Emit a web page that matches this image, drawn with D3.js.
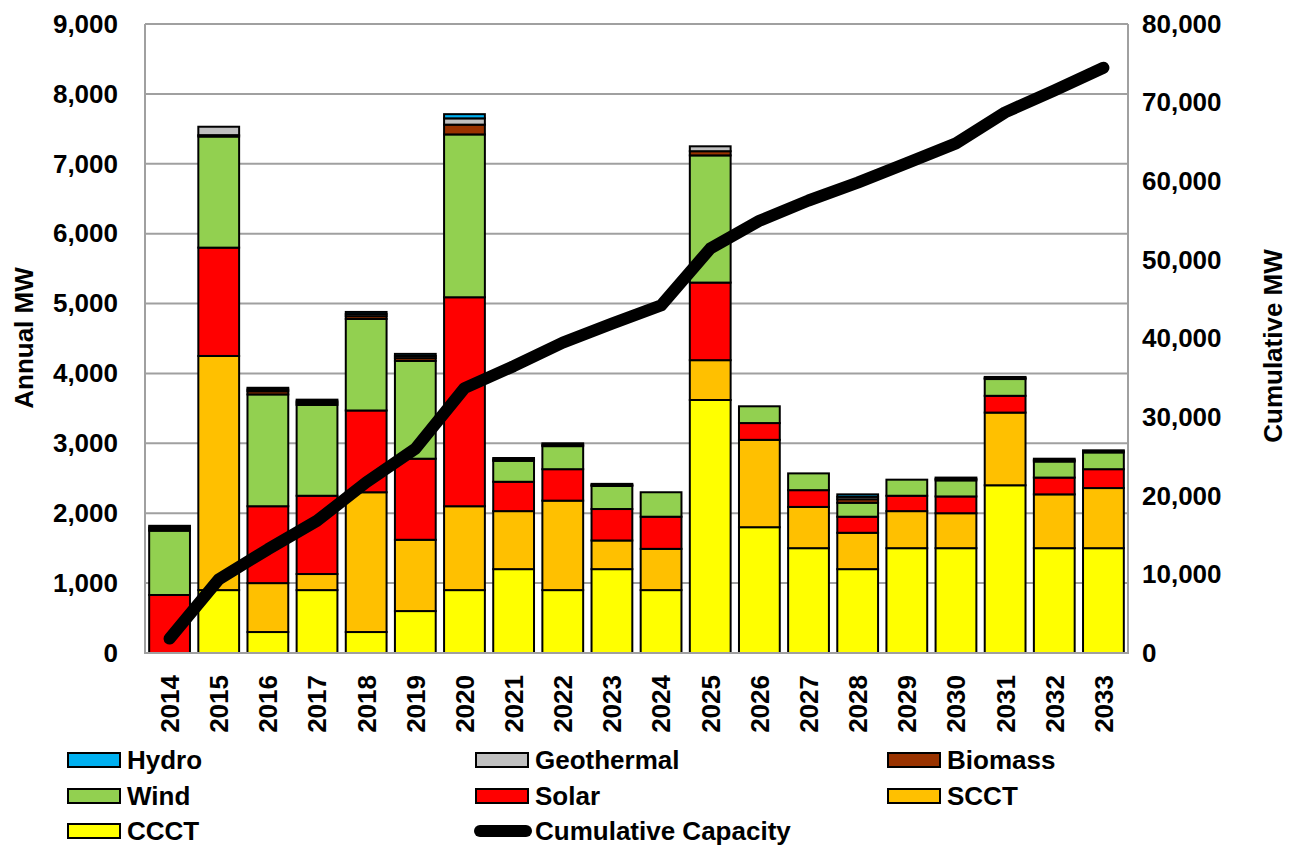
<!DOCTYPE html>
<html>
<head>
<meta charset="utf-8">
<script src="https://cdn.jsdelivr.net/npm/d3@7"></script>
<style>
  html, body { margin: 0; padding: 0; background: #fff; }
  svg { display: block; }
  text { font-family: "Liberation Sans", Arial, sans-serif; font-weight: bold; fill: #000; }
</style>
</head>
<body>
<svg id="chart" width="1289" height="846"></svg>
<script>
// ---- Data ----
const years = ["2014","2015","2016","2017","2018","2019","2020","2021","2022","2023",
               "2024","2025","2026","2027","2028","2029","2030","2031","2032","2033"];
const ccct       = [0, 900, 300, 900, 300, 600, 900, 1200, 900, 1200, 900, 3620, 1800, 1500, 1200, 1500, 1500, 2400, 1500, 1500];
const scct       = [0, 3350, 700, 230, 2000, 1020, 1200, 830, 1280, 410, 590, 570, 1250, 590, 520, 530, 500, 1040, 770, 860];
const solar      = [830, 1550, 1100, 1120, 1170, 1160, 2990, 420, 450, 450, 460, 1110, 240, 240, 230, 220, 240, 240, 240, 270];
const wind       = [920, 1590, 1600, 1300, 1310, 1400, 2330, 300, 330, 330, 350, 1820, 240, 240, 200, 230, 230, 240, 230, 240];
const biomass    = [20, 20, 45, 25, 40, 40, 140, 0, 0, 0, 0, 60, 0, 0, 50, 0, 0, 0, 0, 0];
const geothermal = [25, 120, 25, 25, 30, 30, 90, 20, 20, 15, 0, 70, 0, 0, 35, 0, 20, 15, 20, 15];
const hydro      = [25, 0, 25, 25, 30, 30, 60, 20, 20, 15, 0, 0, 0, 0, 35, 0, 20, 15, 20, 15];
const cumulative = [1830, 9360, 13190, 16820, 21700, 25980, 33690, 36480, 39480, 41900,
                    44200, 51440, 54970, 57550, 59820, 62300, 64810, 68760, 71540, 74440];
const leftTicks  = [0, 1000, 2000, 3000, 4000, 5000, 6000, 7000, 8000, 9000];
const rightTicks = [0, 10000, 20000, 30000, 40000, 50000, 60000, 70000, 80000];

const seriesNames  = ["CCCT", "SCCT", "Solar", "Wind", "Biomass", "Geothermal", "Hydro"];
const seriesValues = [ccct, scct, solar, wind, biomass, geothermal, hydro];
const seriesColors = ["#FFFF00", "#FFC000", "#FF0000", "#92D050", "#993300", "#C0C0C0", "#00B0F0"];

// ---- Layout ----
const svg = d3.select("#chart");
const X0 = 145, X1 = 1128, YTOP = 24, YBOT = 653;
const FONT = 26;

const x = d3.scaleBand().domain(years).range([X0, X1]).paddingInner(0.17).paddingOuter(0.085);
const yL = d3.scaleLinear().domain([0, 9000]).range([YBOT, YTOP]);
const yR = d3.scaleLinear().domain([0, 80000]).range([YBOT, YTOP]);

// gridlines
svg.append("g").selectAll("line").data(leftTicks.filter(d => d > 0)).join("line")
  .attr("x1", X0).attr("x2", X1)
  .attr("y1", d => yL(d)).attr("y2", d => yL(d))
  .attr("stroke", "#a0a0a0").attr("stroke-width", 2);

// stacked bars
const table = years.map((yr, i) => {
  const row = { year: yr };
  seriesNames.forEach((n, k) => row[n] = seriesValues[k][i]);
  return row;
});
const stacked = d3.stack().keys(seriesNames)(table);
const barG = svg.append("g");
stacked.forEach((layer, k) => {
  barG.append("g").selectAll("rect").data(layer.filter(d => d[1] - d[0] > 0)).join("rect")
    .attr("x", d => x(d.data.year))
    .attr("width", x.bandwidth())
    .attr("y", d => yL(d[1]))
    .attr("height", d => yL(d[0]) - yL(d[1]))
    .attr("fill", seriesColors[k])
    .attr("stroke", "#000").attr("stroke-width", 2);
});

// axes frame lines
svg.append("line").attr("x1", X0).attr("x2", X0).attr("y1", YTOP).attr("y2", YBOT + 1)
  .attr("stroke", "#a0a0a0").attr("stroke-width", 2);
svg.append("line").attr("x1", X1).attr("x2", X1).attr("y1", YTOP).attr("y2", YBOT + 1)
  .attr("stroke", "#a0a0a0").attr("stroke-width", 2);
svg.append("line").attr("x1", X0).attr("x2", X1).attr("y1", YBOT).attr("y2", YBOT)
  .attr("stroke", "#a0a0a0").attr("stroke-width", 2);

// cumulative line
const line = d3.line().x((d, i) => x(years[i]) + x.bandwidth() / 2).y(d => yR(d));
svg.append("path").datum(cumulative).attr("d", line)
  .attr("fill", "none").attr("stroke", "#000").attr("stroke-width", 12)
  .attr("stroke-linejoin", "round").attr("stroke-linecap", "round");

// left axis
const gL = svg.append("g").attr("transform", `translate(${X0},0)`)
  .call(d3.axisLeft(yL).tickValues(leftTicks).tickFormat(d3.format(",")).tickSize(0).tickPadding(27));
gL.select(".domain").remove();
gL.selectAll("text").style("font-size", FONT + "px").style("font-family", '"Liberation Sans", Arial, sans-serif').style("font-weight", "bold");

// right axis
const gR = svg.append("g").attr("transform", `translate(${X1},0)`)
  .call(d3.axisRight(yR).tickValues(rightTicks).tickFormat(d3.format(",")).tickSize(0).tickPadding(14));
gR.select(".domain").remove();
gR.selectAll("text").style("font-size", FONT + "px").style("font-family", '"Liberation Sans", Arial, sans-serif').style("font-weight", "bold");

// bottom axis
const gB = svg.append("g").attr("transform", `translate(0,${YBOT})`)
  .call(d3.axisBottom(x).tickSize(0));
gB.select(".domain").remove();
gB.selectAll("text")
  .attr("transform", "rotate(-90)")
  .attr("x", -22).attr("y", 0).attr("dy", "0.36em")
  .style("text-anchor", "end")
  .style("font-size", FONT + "px").style("font-family", '"Liberation Sans", Arial, sans-serif').style("font-weight", "bold");

// axis titles
svg.append("text").attr("transform", "translate(33,338) rotate(-90)")
  .attr("text-anchor", "middle").style("font-size", FONT + "px").text("Annual MW");
svg.append("text").attr("transform", "translate(1282,346) rotate(-90)")
  .attr("text-anchor", "middle").style("font-size", FONT + "px").text("Cumulative MW");

// legend
const legendItems = [
  { name: "Hydro", color: "#00B0F0", col: 0, row: 0 },
  { name: "Geothermal", color: "#C0C0C0", col: 1, row: 0 },
  { name: "Biomass", color: "#993300", col: 2, row: 0 },
  { name: "Wind", color: "#92D050", col: 0, row: 1 },
  { name: "Solar", color: "#FF0000", col: 1, row: 1 },
  { name: "SCCT", color: "#FFC000", col: 2, row: 1 },
  { name: "CCCT", color: "#FFFF00", col: 0, row: 2 },
  { name: "Cumulative Capacity", color: null, col: 1, row: 2 }
];
const colX = [68, 476, 888];
const rowY = [760, 796, 831];
const lg = svg.append("g");
legendItems.forEach(it => {
  const cx = colX[it.col], cy = rowY[it.row];
  if (it.color) {
    lg.append("rect").attr("x", cx).attr("y", cy - 7).attr("width", 52).attr("height", 14)
      .attr("fill", it.color).attr("stroke", "#000").attr("stroke-width", 2);
  } else {
    lg.append("line").attr("x1", cx + 4).attr("x2", cx + 50).attr("y1", cy).attr("y2", cy)
      .attr("stroke", "#000").attr("stroke-width", 12).attr("stroke-linecap", "round");
  }
  lg.append("text").attr("x", cx + 59).attr("y", cy).attr("dy", "0.36em")
    .style("font-size", FONT + "px").text(it.name);
});
</script>
</body>
</html>
